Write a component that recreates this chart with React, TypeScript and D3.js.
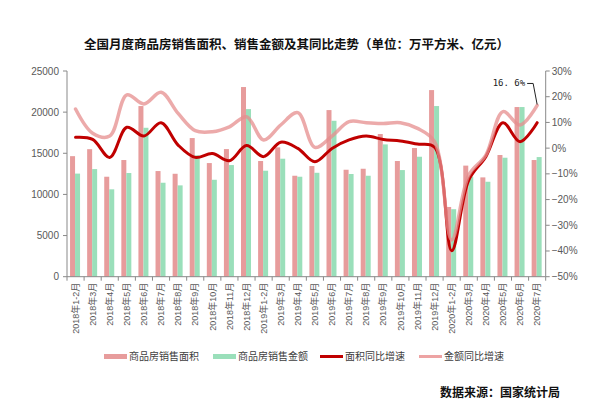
import React from 'react';
import * as d3 from 'd3';

const categories = [
  '2018年1-2月', '2018年3月', '2018年4月', '2018年5月', '2018年6月', '2018年7月',
  '2018年8月', '2018年9月', '2018年10月', '2018年11月', '2018年12月',
  '2019年1-2月', '2019年3月', '2019年4月', '2019年5月', '2019年6月', '2019年7月',
  '2019年8月', '2019年9月', '2019年10月', '2019年11月', '2019年12月',
  '2020年1-2月', '2020年3月', '2020年4月', '2020年5月', '2020年6月', '2020年7月',
];

// 商品房销售面积 (万平方米)
const areaValues = [
  14650, 15500, 12150, 14180, 20740, 12840, 12510, 16850, 13810, 15510, 23050,
  14060, 15720, 12270, 13450, 20250, 13000, 13120, 17340, 14060, 15640, 22680,
  8475, 13500, 12070, 14790, 20620, 14180,
];

// 商品房销售金额 (亿元)
const amountValues = [
  12530, 13080, 10620, 12600, 18100, 11420, 11100, 14750, 11780, 13570, 20370,
  12880, 14340, 12150, 12630, 18950, 12480, 12270, 16080, 12960, 14580, 20740,
  8203, 12160, 11540, 14460, 20620, 14540,
];

// 面积同比增速 (%)
const areaGrowth = [
  4.2, 3.4, -3.6, 8.1, 4.7, 9.9, 1.2, -3.6, -2.1, -4.9, 1.0,
  -3.3, 2.3, -0.1, -5.3, -0.1, 3.2, 4.7, 3.4, 2.8, 1.6, 0.4,
  -39.9, -12.4, -3.3, 9.9, 2.5, 9.9,
];

// 金额同比增速 (%)
const amountGrowth = [
  15.2, 5.8, 4.7, 20.7, 17.2, 21.7, 13.5, 6.8, 6.4, 8.3, 12.2,
  3.2, 9.0, 13.8, 0.3, 4.7, 10.3, 9.9, 9.6, 9.9, 7.7, 2.5,
  -35.7, -10.5, -2.7, 14.2, 9.0, 16.6,
];

const leftTicks = [0, 5000, 10000, 15000, 20000, 25000];
const rightTicks = [-50, -40, -30, -20, -10, 0, 10, 20, 30];

const legendItems = [
  { label: '商品房销售面积', color: '#E79C9C', width: 5 },
  { label: '商品房销售金额', color: '#9ADFBA', width: 5 },
  { label: '面积同比增速', color: '#C00000', width: 3 },
  { label: '金额同比增速', color: '#EDA3A3', width: 3 },
];

const W = 601;
const H = 413;
const plot = { left: 67, right: 545.7, top: 71, bottom: 276.7 };
const font = '"Liberation Sans", "Noto Sans CJK SC", sans-serif';
const axisColor = '#898989';
const textColor = '#595959';

const App = () => {
  const x = d3.scaleBand<number>()
    .domain(d3.range(categories.length))
    .range([plot.left, plot.right])
    .paddingInner(0);
  const step = x.bandwidth();
  const barW = 5;

  const yLeft = d3.scaleLinear().domain([0, 25000]).range([plot.bottom, plot.top]);
  const yRight = d3.scaleLinear().domain([-50, 30]).range([plot.bottom, plot.top]);

  const cx = (i: number) => (x(i) as number) + step / 2;

  const line = d3.line<number>()
    .x((_, i) => cx(i))
    .y(d => yRight(d))
    .curve(d3.curveCatmullRom.alpha(0.5));

  const lastI = categories.length - 1;
  const annX = cx(lastI);
  const annY = yRight(amountGrowth[lastI]);

  return (
    <svg width={W} height={H} viewBox={`0 0 ${W} ${H}`}
      style={{ position: 'absolute', left: 0, top: 0, background: '#fff' }}
      fontFamily={font}>
      <rect width={W} height={H} fill="#fff" />

      <text x={W / 2 - 4} y={49} textAnchor="middle" fontSize={12.5} fontWeight="bold"
        fill="#111" fontFamily='"Noto Sans CJK SC", sans-serif'>
        全国月度商品房销售面积、销售金额及其同比走势（单位：万平方米、亿元）
      </text>

      {/* bars */}
      {areaValues.map((v, i) => (
        <rect key={`a-${i}`} x={cx(i) - barW - 0.5} y={yLeft(v)} width={barW}
          height={plot.bottom - yLeft(v)} fill="#E79C9C" />
      ))}
      {amountValues.map((v, i) => (
        <rect key={`m-${i}`} x={cx(i) - 0.5} y={yLeft(v)} width={barW}
          height={plot.bottom - yLeft(v)} fill="#9ADFBA" />
      ))}

      {/* lines */}
      <path d={line(areaGrowth) || ''} fill="none" stroke="#C00000" strokeWidth={3}
        strokeLinejoin="round" strokeLinecap="round" />
      <path d={line(amountGrowth) || ''} fill="none" stroke="#E68E8E" strokeOpacity={0.75}
        strokeWidth={3.5} strokeLinejoin="round" strokeLinecap="round" />

      {/* left axis */}
      <line x1={plot.left} x2={plot.left} y1={plot.top} y2={plot.bottom} stroke={axisColor} />
      {leftTicks.map(t => (
        <g key={`lt-${t}`}>
          <line x1={plot.left - 4} x2={plot.left} y1={yLeft(t)} y2={yLeft(t)} stroke={axisColor} />
          <text x={plot.left - 8} y={yLeft(t) + 3.5} textAnchor="end" fontSize={10} fill={textColor}>{t}</text>
        </g>
      ))}

      {/* right axis */}
      <line x1={plot.right} x2={plot.right} y1={plot.top} y2={plot.bottom} stroke={axisColor} />
      {rightTicks.map(t => (
        <g key={`rt-${t}`}>
          <line x1={plot.right} x2={plot.right + 4} y1={yRight(t)} y2={yRight(t)} stroke={axisColor} />
          <text x={plot.right + 6} y={yRight(t) + 3.5} fontSize={10} fill={textColor}>
            {t < 0 ? `−${-t}%` : `${t}%`}
          </text>
        </g>
      ))}

      {/* x axis */}
      <line x1={plot.left} x2={plot.right} y1={plot.bottom} y2={plot.bottom} stroke={axisColor} />
      {d3.range(categories.length + 1).map(i => {
        const tx = plot.left + i * step;
        return <line key={`xt-${i}`} x1={tx} x2={tx} y1={plot.bottom} y2={plot.bottom + 4} stroke={axisColor} />;
      })}
      {categories.map((c, i) => (
        <text key={`xl-${i}`} transform={`translate(${cx(i) + 3.2},${plot.bottom + 6}) rotate(-90)`}
          textAnchor="end" fontSize={9} fill={textColor}>{c}</text>
      ))}

      {/* annotation */}
      <path d={`M${annX - 10},${annY - 22} L${annX - 4},${annY - 22} L${annX},${annY - 1}`}
        fill="none" stroke="#222" strokeWidth={1} />
      <text x={annX - 12} y={annY - 19} textAnchor="end" fontSize={9} fill="#222"
        fontFamily='"DejaVu Sans Mono", monospace'>16. 6%</text>

      {/* legend */}
      {(() => {
        const starts = [104, 213, 320, 419];
        return legendItems.map((d, i) => (
          <g key={`lg-${i}`}>
            <line x1={starts[i]} x2={starts[i] + 23} y1={356.5} y2={356.5} stroke={d.color} strokeWidth={d.width} />
            <text x={starts[i] + 25} y={360} fontSize={10} fill="#404040"
              fontFamily='"Noto Sans CJK SC", sans-serif'>{d.label}</text>
          </g>
        ));
      })()}

      <text x={560} y={397} textAnchor="end" fontSize={12} fontWeight="bold" fill="#111"
        fontFamily='"Noto Sans CJK SC", sans-serif'>数据来源：国家统计局</text>
    </svg>
  );
};

export default App;
